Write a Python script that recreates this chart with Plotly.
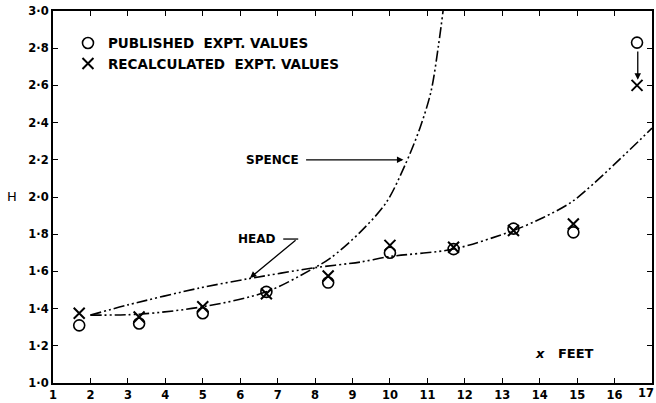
import plotly.graph_objects as go

# Experimental values
x_pts = [1.7, 3.3, 5.0, 6.7, 8.35, 10.0, 11.7, 13.3, 14.9, 16.6]
published = [1.31, 1.32, 1.375, 1.49, 1.54, 1.70, 1.72, 1.83, 1.81, 2.83]
recalculated = [1.375, 1.355, 1.41, 1.48, 1.575, 1.74, 1.73, 1.82, 1.855, 2.60]

# Theoretical curves
spence_x = [2.0, 3.3, 5.0, 6.7, 7.9, 8.4, 9.2, 9.9, 10.4, 10.8, 11.1, 11.3, 11.45]
spence_y = [1.365, 1.37, 1.41, 1.49, 1.61, 1.67, 1.81, 1.97, 2.17, 2.37, 2.57, 2.82, 3.05]
head_x = [2.0, 3.0, 4.9, 6.2, 8.0, 9.2, 10.0, 11.7, 13.3, 14.1, 14.9, 17.0]
head_y = [1.365, 1.42, 1.51, 1.56, 1.62, 1.65, 1.68, 1.72, 1.82, 1.89, 1.98, 2.37]

x_ticks = list(range(1, 18))
x_ticktext = [str(v) for v in x_ticks[:-1]] + [""]   # last label drawn flush with the edge below
x_last_label = str(x_ticks[-1])
y_ticks = [1.0, 1.2, 1.4, 1.6, 1.8, 2.0, 2.2, 2.4, 2.6, 2.8, 3.0]
y_ticktext = ["1·0", "1·2", "1·4", "1·6", "1·8", "2·0", "2·2", "2·4", "2·6", "2·8", "3·0"]

FONT = "DejaVu Sans"
DASH = "11px,3px,2px,3px,2px,3px"

fig = go.Figure()
fig.add_trace(go.Scatter(x=spence_x, y=spence_y, mode="lines", line=dict(color="black", width=1.6, dash=DASH, shape="spline", smoothing=0.9), showlegend=False))
fig.add_trace(go.Scatter(x=head_x, y=head_y, mode="lines", line=dict(color="black", width=1.6, dash=DASH, shape="spline", smoothing=0.8), showlegend=False))
fig.add_trace(go.Scatter(x=x_pts, y=published, mode="markers", name="PUBLISHED&nbsp;&nbsp;EXPT. VALUES",
                         marker=dict(symbol="circle-open", size=11, color="black", line=dict(width=1.6))))
fig.add_trace(go.Scatter(x=x_pts, y=recalculated, mode="markers", name="RECALCULATED&nbsp;&nbsp;EXPT. VALUES",
                         marker=dict(symbol="x-thin-open", size=11, color="black", line=dict(width=2))))

lab = dict(family=FONT, size=12, color="black", weight="bold")
tickfont = dict(family=FONT, size=11.5, color="black", weight="bold")
ann = []
# Spence label and arrow
ann.append(dict(x=6.85, y=2.2, xref="x", yref="y", text="SPENCE", showarrow=False, font=lab))
ann.append(dict(x=10.36, y=2.2, xref="x", yref="y", ax=7.72, ay=2.2, axref="x", ayref="y", text="", showarrow=True,
                arrowhead=2, arrowsize=1, arrowwidth=1.3, arrowcolor="black"))
# Head label and arrow
ann.append(dict(x=6.45, y=1.774, xref="x", yref="y", text="HEAD", showarrow=False, font=lab))
ann.append(dict(x=6.26, y=1.565, xref="x", yref="y", ax=7.52, ay=1.774, axref="x", ayref="y", text="", showarrow=True,
                arrowhead=2, arrowsize=1, arrowwidth=1.3, arrowcolor="black"))
# Vertical correction arrow at last point
ann.append(dict(x=16.62, y=2.63, xref="x", yref="y", ax=16.62, ay=2.79, axref="x", ayref="y", text="", showarrow=True,
                arrowhead=2, arrowsize=1, arrowwidth=1.3, arrowcolor="black"))
# Axis labels
ann.append(dict(x=14.67, y=1.16, xref="x", yref="y", text="<i>x</i>&nbsp;&nbsp;&nbsp;FEET", showarrow=False,
                font=dict(family=FONT, size=13, color="black", weight="bold")))
ann.append(dict(x=-(53 - 12) / 599, y=(383 - 196) / 372, xref="paper", yref="paper", text="H", showarrow=False,
                xanchor="center", yanchor="middle", font=dict(family=FONT, size=13, color="black")))
# Last x tick label, kept inside the page edge
ann.append(dict(x=1.0, y=0, xref="paper", yref="paper", text=x_last_label, showarrow=False,
                xanchor="right", yanchor="top", xshift=4, yshift=-1, font=tickfont))

fig.update_layout(
    width=656, height=403,
    margin=dict(l=53, r=4, t=11, b=20, autoexpand=False),
    paper_bgcolor="white", plot_bgcolor="white",
    font=dict(family=FONT, color="black"),
    annotations=ann,
    shapes=[dict(type="line", xref="x", yref="y", x0=7.15, x1=7.55, y0=1.774, y1=1.774, line=dict(color="black", width=1.3))],
    legend=dict(x=0.025, y=0.955, xanchor="left", yanchor="top", bgcolor="rgba(0,0,0,0)",
                font=dict(family=FONT, size=13.5, color="black", weight="bold"), itemwidth=30, tracegroupgap=0),
    xaxis=dict(range=[1, 17], tickvals=x_ticks, ticktext=x_ticktext, ticks="inside", ticklen=5, tickwidth=1.3, tickcolor="black",
               showline=True, linecolor="black", linewidth=2, mirror="allticks", showgrid=False, zeroline=False,
               automargin=False, tickfont=tickfont),
    yaxis=dict(range=[1.0, 3.0], tickvals=y_ticks, ticktext=y_ticktext, ticks="inside", ticklen=5, tickwidth=1.3, tickcolor="black",
               showline=True, linecolor="black", linewidth=2, mirror="allticks", showgrid=False, zeroline=False,
               automargin=False, tickfont=tickfont),
)

fig.write_html("out.html")
